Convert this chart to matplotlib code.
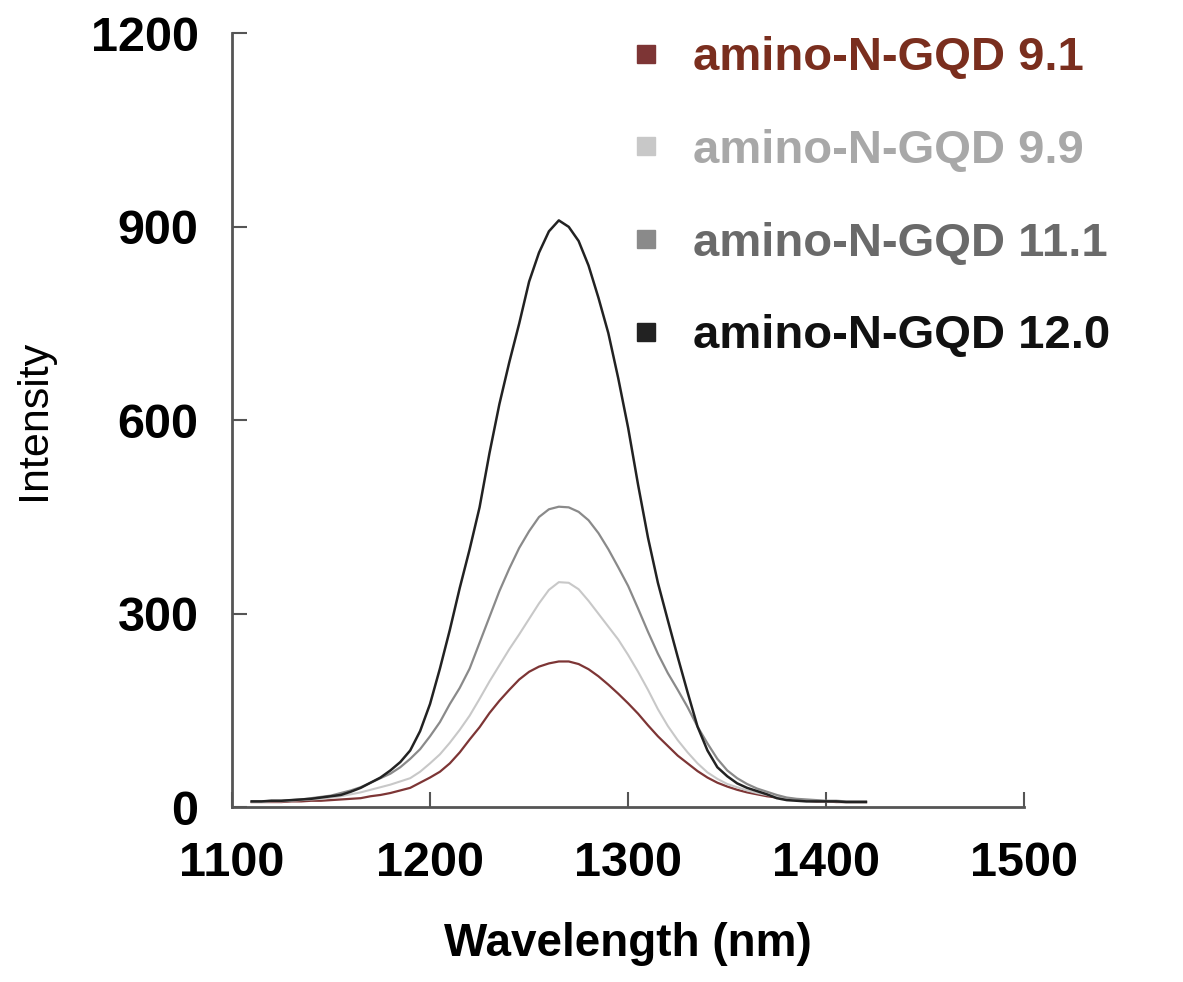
import matplotlib.pyplot as plt
from matplotlib.lines import Line2D
import numpy as np

plt.rcParams['font.family'] = ['Liberation Sans', 'DejaVu Sans']

# Longitud de onda (nm), cada 5 nm
wavelength = [1110, 1115, 1120, 1125, 1130, 1135, 1140, 1145, 1150, 1155,
              1160, 1165, 1170, 1175, 1180, 1185, 1190, 1195, 1200, 1205,
              1210, 1215, 1220, 1225, 1230, 1235, 1240, 1245, 1250, 1255,
              1260, 1265, 1270, 1275, 1280, 1285, 1290, 1295, 1300, 1305,
              1310, 1315, 1320, 1325, 1330, 1335, 1340, 1345, 1350, 1355,
              1360, 1365, 1370, 1375, 1380, 1385, 1390, 1395, 1400, 1405,
              1410, 1415, 1420]

# Intensidades
gqd_91 = [8, 8, 8, 8, 9, 9, 10, 10, 11, 12,
          13, 14, 17, 19, 22, 26, 30, 38, 46, 55,
          68, 85, 105, 124, 146, 165, 182, 198, 210, 218,
          223, 226, 226, 222, 214, 203, 190, 176, 161, 145,
          127, 110, 95, 80, 68, 56, 46, 38, 32, 27,
          23, 20, 17, 15, 13, 11, 10, 9, 9, 8,
          8, 8, 8]
gqd_99 = [8, 8, 9, 9, 10, 11, 12, 13, 15, 17,
          20, 23, 27, 31, 35, 40, 45, 55, 68, 82,
          100, 120, 142, 168, 195, 220, 245, 268, 292, 316,
          337, 349, 348, 338, 320, 300, 280, 260, 236, 210,
          182, 152, 126, 104, 85, 68, 54, 44, 36, 31,
          26, 22, 19, 16, 14, 12, 11, 10, 9, 9,
          8, 8, 8]
gqd_111 = [9, 9, 10, 10, 11, 12, 14, 16, 18, 22,
           26, 31, 38, 45, 52, 62, 75, 90, 110, 132,
           160, 185, 215, 255, 295, 335, 370, 402, 428, 450,
           462, 466, 465, 458, 445, 425, 400, 372, 343, 308,
           272, 238, 208, 182, 155, 125, 99, 75, 57, 45,
           36, 29, 24, 19, 15, 13, 12, 11, 10, 10,
           9, 9, 9]
gqd_120 = [9, 9, 10, 10, 11, 12, 13, 15, 17, 19,
           24, 30, 38, 46, 57, 70, 88, 118, 160, 215,
           275, 340, 400, 465, 549, 625, 690, 750, 815, 860,
           893, 910, 900, 878, 840, 790, 735, 665, 588, 500,
           418, 348, 290, 233, 178, 125, 88, 62, 48, 37,
           30, 25, 20, 14, 11, 10, 9, 9, 9, 9,
           8, 8, 8]

etiquetas = ['amino-N-GQD 9.1', 'amino-N-GQD 9.9', 'amino-N-GQD 11.1', 'amino-N-GQD 12.0']
series = [gqd_91, gqd_99, gqd_111, gqd_120]
colores_linea = ['#7d3535', '#c8c8c8', '#8a8a8a', '#222222']
colores_texto = ['#7a2e1e', '#a8a8a8', '#6a6a6a', '#111111']
grosores = [1.6, 1.5, 1.6, 1.8]

x_ticks = [1100, 1200, 1300, 1400, 1500]
y_ticks = [0, 300, 600, 900, 1200]

fig = plt.figure(figsize=(11.83, 9.82), dpi=100)
ax = fig.add_axes([0.196, 0.178, 0.67, 0.788])

for datos, c, lw in zip(series, colores_linea, grosores):
    ax.plot(wavelength, datos, color=c, lw=lw)

ax.set_xlim(1100, 1500)
ax.set_ylim(0, 1200)
ax.set_xticks(x_ticks)
ax.set_yticks(y_ticks)

for lado in ['top', 'right']:
    ax.spines[lado].set_visible(False)
for lado in ['left', 'bottom']:
    ax.spines[lado].set_color('#555555')
    ax.spines[lado].set_linewidth(2)

ax.tick_params(direction='in', length=11, width=1.5, color='#555555',
               labelsize=35, pad=24)
for lbl in ax.get_xticklabels() + ax.get_yticklabels():
    lbl.set_fontweight('bold')

ax.set_xlabel('Wavelength (nm)', fontsize=33, fontweight='bold', labelpad=26)
ax.set_ylabel('Intensity', fontsize=31, labelpad=26)

# Leyenda con cuadritos, fuera del eje a la derecha
handles = [Line2D([], [], ls='none', marker='s', markersize=12.5, color=c)
           for c in colores_linea]
leg = fig.legend(handles, etiquetas, loc='upper left',
                 bbox_to_anchor=(627 / 1183, 0.963),
                 frameon=False, prop={'size': 34, 'weight': 'bold'},
                 labelcolor=colores_texto, labelspacing=1.03, handletextpad=0.6,
                 handlelength=0.8, borderpad=0, borderaxespad=0)

fig.savefig('out.png', dpi=100)
